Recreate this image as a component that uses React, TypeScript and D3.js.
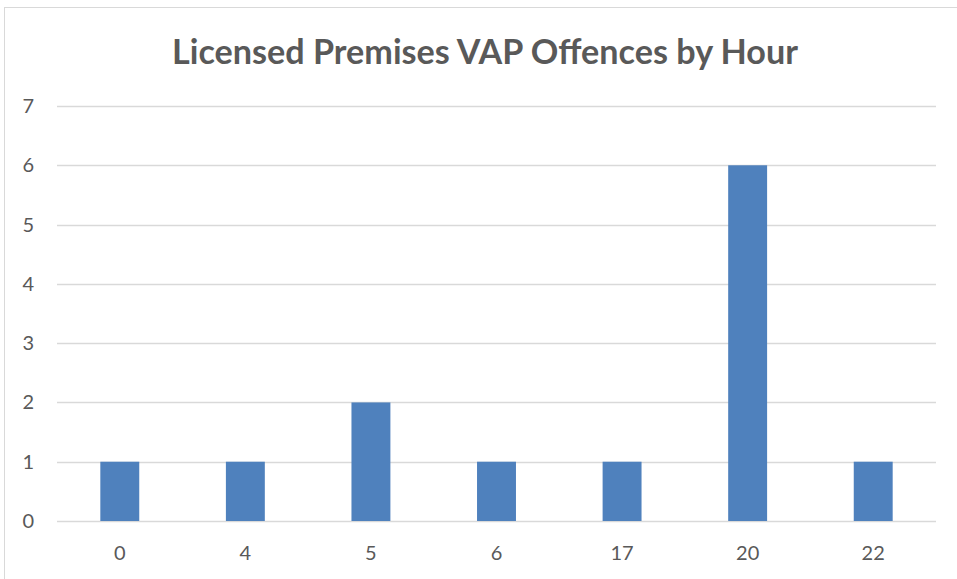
import React, { useEffect, useRef } from "react";
import * as d3 from "d3";

const hours = ["0", "4", "5", "6", "17", "20", "22"];
const offences = [1, 1, 2, 1, 1, 6, 1];
const yTicks = [0, 1, 2, 3, 4, 5, 6, 7];
const title = "Licensed Premises VAP Offences by Hour";

const W = 957;
const H = 579;

const App: React.FC = () => {
  const svgRef = useRef<SVGSVGElement>(null);

  useEffect(() => {
    const svg = d3.select(svgRef.current);
    svg.selectAll("*").remove();

    const font = "Lato, 'Open Sans', sans-serif";
    const textColor = "#595959";

    // outer frame (only left/top visible in the picture)
    svg
      .append("rect")
      .attr("x", 4.5)
      .attr("y", 7.5)
      .attr("width", W + 20)
      .attr("height", H + 20)
      .attr("fill", "#fff")
      .attr("stroke", "#d9d9d9");

    const x = d3.scaleBand().domain(hours).range([57, 936]).paddingInner(0.69).paddingOuter(0.345);
    const y = d3.scaleLinear().domain([0, 7]).range([521, 106]);

    svg
      .append("text")
      .attr("x", 485)
      .attr("y", 64)
      .attr("text-anchor", "middle")
      .attr("font-family", font)
      .attr("font-weight", "bold")
      .attr("font-size", 34)
      .attr("textLength", 626)
      .attr("lengthAdjust", "spacingAndGlyphs")
      .attr("fill", textColor)
      .text(title);

    // grid
    svg
      .append("g")
      .selectAll("line")
      .data(yTicks)
      .join("line")
      .attr("x1", 57)
      .attr("x2", 936)
      .attr("y1", (d) => Math.round(y(d)) + 0.5)
      .attr("y2", (d) => Math.round(y(d)) + 0.5)
      .attr("stroke", "#d9d9d9")
      .attr("stroke-width", 1.5);

    // y labels
    svg
      .append("g")
      .selectAll("text")
      .data(yTicks)
      .join("text")
      .attr("x", 34)
      .attr("y", (d) => y(d) + 7)
      .attr("text-anchor", "end")
      .attr("font-family", font)
      .attr("font-size", 20)
      .attr("fill", textColor)
      .text((d) => String(d));

    // bars
    svg
      .append("g")
      .selectAll("rect")
      .data(offences)
      .join("rect")
      .attr("x", (_, i) => x(hours[i])!)
      .attr("y", (d) => y(d))
      .attr("width", x.bandwidth())
      .attr("height", (d) => y(0) - y(d))
      .attr("fill", "#4f81bd");

    // x labels
    svg
      .append("g")
      .selectAll("text")
      .data(hours)
      .join("text")
      .attr("x", (d) => x(d)! + x.bandwidth() / 2)
      .attr("y", 560)
      .attr("text-anchor", "middle")
      .attr("font-family", font)
      .attr("font-size", 20)
      .attr("fill", textColor)
      .text((d) => d);
  }, []);

  return (
    <svg
      ref={svgRef}
      width={W}
      height={H}
      style={{ position: "absolute", left: 0, top: 0, background: "#fff" }}
    />
  );
};

export default App;
